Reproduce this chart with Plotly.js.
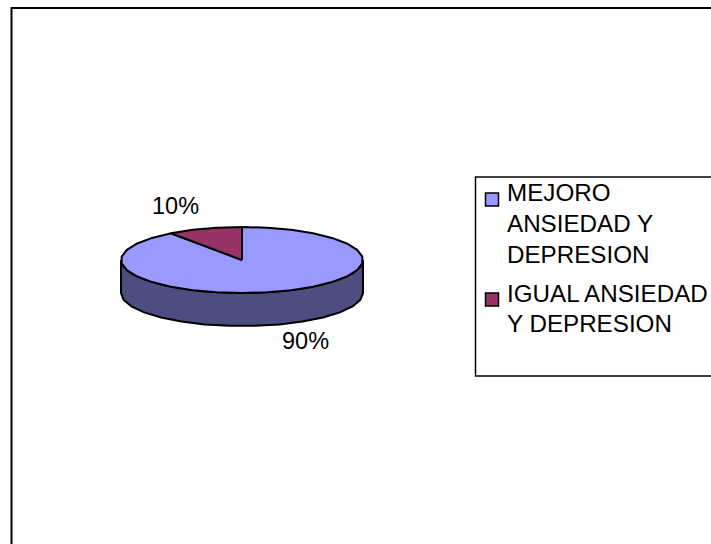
<!DOCTYPE html>
<html>
<head>
<meta charset="utf-8">
<script src="https://cdn.plot.ly/plotly-3.0.1.min.js"></script>
<style>html,body{margin:0;padding:0;background:#fff;overflow:hidden}</style>
</head>
<body>
<div id="chart" style="width:711px;height:544px"></div>
<script>
// Outcome shares for the two patient groups
const categories = ['MEJORO ANSIEDAD Y DEPRESION', 'IGUAL ANSIEDAD Y DEPRESION'];
const shares = [90, 10];
const shareLabels = ['90%', '10%'];
const topColors = ['#9999FF', '#993366'];
const sideColors = ['#4D4D80', '#4D1A33'];
const legendLines = [['MEJORO', 'ANSIEDAD Y', 'DEPRESION'], ['IGUAL ANSIEDAD', 'Y DEPRESION']];

const W = 711, H = 544;
const FONT = 'Liberation Sans, Arial, sans-serif';

// The disc is drawn in unit coordinates: radius 1 horizontally and vertically,
// with the axes scaled differently so the circle renders as a flattened ellipse.
const cx = 242, cy = 260, rx = 121, ry = 33, depth = 1.0;
const xRange = [-cx / rx, (W - cx) / rx];
const yRange = [-(H - cy) / ry, cy / ry];

const STEP = 12; // facet size of the rim, in degrees
function rimPoint(deg, drop) {
  const a = deg * Math.PI / 180;
  return [Math.sin(a), Math.cos(a) - (drop || 0)];
}
function arc(from, to, drop) {
  const pts = [];
  const n = Math.max(1, Math.round(Math.abs(to - from) / STEP));
  for (let i = 0; i <= n; i++) pts.push(rimPoint(from + (to - from) * i / n, drop));
  return pts;
}
function polygon(pts, fill) {
  const closed = pts.concat([pts[0]]);
  return {
    type: 'scatter', mode: 'lines', fill: 'toself', fillcolor: fill,
    x: closed.map(p => p[0]), y: closed.map(p => p[1]),
    line: {color: '#000', width: 2}, hoverinfo: 'skip', showlegend: false
  };
}

// Slices run clockwise from twelve o'clock
const total = shares.reduce((a, b) => a + b, 0);
let start = 0;
const wedges = shares.map(v => {
  const sweep = v / total * 360;
  const w = {from: start, to: start + sweep};
  start += sweep;
  return w;
});

// Visible rim: the front half of the disc, extruded downward
const front = arc(90, 270, 0);
const frontLow = arc(270, 90, depth);
const traces = [polygon(front.concat(frontLow), sideColors[0])];
wedges.forEach((w, i) => {
  traces.push(polygon([[0, 0]].concat(arc(w.from, w.to, 0)), topColors[i]));
});

// Pixel helpers for paper-anchored items
const px = x => x / W;
const py = y => 1 - y / H;

const shapes = [
  // outer chart frame, running off the right and bottom edges
  {type: 'rect', xref: 'paper', yref: 'paper', x0: px(11.5), x1: px(W + 20), y0: py(8), y1: py(H + 20),
   line: {color: '#000', width: 2}, fillcolor: 'rgba(0,0,0,0)'},
  // legend box
  {type: 'rect', xref: 'paper', yref: 'paper', x0: px(475.5), x1: px(W + 20), y0: py(177), y1: py(376),
   line: {color: '#000', width: 1.5}, fillcolor: 'rgba(0,0,0,0)'}
];

const annotations = [];
function addText(text, x, y, anchor, size) {
  annotations.push({
    xref: 'paper', yref: 'paper', x: px(x), y: py(y), text: text, showarrow: false,
    xanchor: anchor, yanchor: 'middle', borderpad: 0,
    font: {family: FONT, size: size, color: '#000'}
  });
}
addText(shareLabels[0], 305, 341, 'center', 23.5);
addText(shareLabels[1], 175, 206, 'center', 23.5);

// Legend entries: swatch plus manually spaced lines
const entryCentres = [193, 293];
const lineGap = 30.7;
legendLines.forEach((lines, i) => {
  const y0 = entryCentres[i];
  shapes.push({type: 'rect', xref: 'paper', yref: 'paper', x0: px(485.5), x1: px(498.5),
    y0: py(y0), y1: py(y0 + 13), fillcolor: topColors[i], line: {color: '#000', width: 1.5}});
  lines.forEach((t, j) => addText(t, 506, y0 + j * lineGap, 'left', 24.2));
});

Plotly.newPlot('chart', traces, {
  width: W, height: H, margin: {l: 0, r: 0, t: 0, b: 0},
  paper_bgcolor: '#fff', plot_bgcolor: '#fff', showlegend: false,
  xaxis: {range: xRange, visible: false, fixedrange: true},
  yaxis: {range: yRange, visible: false, fixedrange: true},
  shapes: shapes, annotations: annotations
}, {displayModeBar: false, staticPlot: true});
</script>
</body>
</html>
